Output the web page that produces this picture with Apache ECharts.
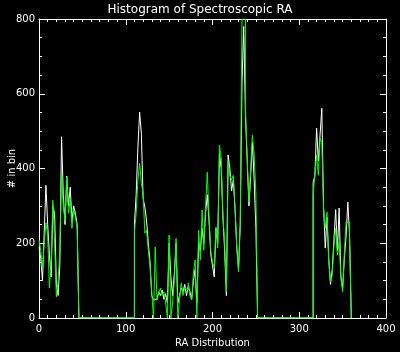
<!DOCTYPE html>
<html>
<head>
<meta charset="utf-8">
<script src="https://cdn.jsdelivr.net/npm/echarts@6/dist/echarts.min.js"></script>
<style>
  html, body { margin: 0; padding: 0; background: #000; }
  #chart { width: 400px; height: 352px; }
</style>
</head>
<body>
<div id="chart"></div>
<script>
// bins: 2 degrees wide, starting at RA 0
var binStart = 0;
var binWidth = 2;

// white histogram counts, one per bin (RA 0..358)
var whiteCounts = [
    // RA 0-44
    190, 160, 100, 230, 355, 250, 170, 110, 300, 280, 90, 60, 140, 485, 330, 250, 380, 300, 350, 260, 300, 280, 250,
    // RA 46-108
    0, 0, 0, 0, 0, 0, 0, 0, 0, 0, 0, 0, 0, 0, 0, 0, 0, 0, 0, 0, 0, 0, 0, 0, 0, 0, 0, 0, 0, 0, 0, 0,
    // RA 110-250
    250, 330, 457, 551, 494, 320, 297, 260, 200, 150, 60, 48, 50, 55, 70, 60, 75, 50, 65, 40,
    200, 110, 60, 120, 200, 40, 60, 80, 70, 90, 60, 85, 70, 50, 100, 130, 40, 200, 180, 240,
    200, 280, 330, 260, 170, 140, 110, 240, 200, 440, 400, 270, 180, 60, 436, 400, 340, 370, 290, 190,
    130, 250, 630, 780, 543, 420, 300, 380, 470, 370, 240,
    // RA 252-314
    0, 0, 0, 0, 0, 0, 0, 0, 0, 0, 0, 0, 0, 0, 0, 0, 0, 0, 0, 0, 0, 0, 0, 0, 0, 0, 0, 0, 0, 0, 0, 0,
    // RA 316-358
    363, 380, 508, 420, 490, 561, 300, 187, 270, 160, 90, 130, 210, 290, 180, 294, 110, 80, 160, 220, 310, 220
];

// green histogram counts, same bins
var greenCounts = [
    210, 180, 130, 200, 255, 220, 80, 150, 315, 200, 56, 100, 180, 387, 300, 260, 377, 280, 320, 240, 290, 270, 240,
    0, 0, 0, 0, 0, 0, 0, 0, 0, 0, 0, 0, 0, 0, 0, 0, 0, 0, 0, 0, 0, 0, 0, 0, 0, 0, 0, 0, 0, 0, 0, 0,
    230, 280, 369, 414, 360, 334, 227, 235, 182, 137, 67, 0, 190, 48, 67, 80, 60, 70, 40, 0,
    222, 0, 40, 100, 213, 0, 50, 94, 60, 80, 75, 94, 60, 48, 120, 155, 0, 235, 155, 289,
    182, 300, 390, 270, 180, 150, 134, 243, 187, 462, 430, 275, 200, 70, 420, 380, 370, 382, 294, 187,
    123, 260, 800, 800, 560, 428, 310, 400, 489, 440, 334,
    0, 0, 0, 0, 0, 0, 0, 0, 0, 0, 0, 0, 0, 0, 0, 0, 0, 0, 0, 0, 0, 0, 0, 0, 0, 0, 0, 0, 0, 0, 0, 0,
    329, 382, 436, 382, 481, 470, 294, 240, 283, 150, 96, 115, 195, 240, 168, 203, 107, 70, 176, 256, 256, 214
];

var xTicks = [0, 100, 200, 300, 400];
var yTicks = [0, 200, 400, 600, 800];

function toSteps(counts) {
    var pts = [];
    for (var i = 0; i < counts.length; i++) {
        pts.push([binStart + i * binWidth, counts[i]]);
    }
    pts.push([binStart + counts.length * binWidth, 0]);
    return pts;
}

var fontName = 'DejaVu Sans';
var axisColor = '#ffffff';

var mkX = function (pos, show) {
    return {
        type: 'value',
        position: pos,
        min: xTicks[0],
        max: xTicks[xTicks.length - 1],
        interval: 100,
        axisLine: {show: true, onZero: false, lineStyle: {color: axisColor, width: 1}},
        axisTick: {show: true, inside: true, length: 6, lineStyle: {color: axisColor}},
        minorTick: {show: true, splitNumber: 10, length: 3, lineStyle: {color: axisColor}},
        axisLabel: {show: show, color: axisColor, fontFamily: fontName, fontSize: 10, margin: 6},
        splitLine: {show: false},
        name: show ? 'RA Distribution' : '',
        nameLocation: 'middle',
        nameGap: 20,
        nameTextStyle: {color: axisColor, fontFamily: fontName, fontSize: 10}
    };
};

var mkY = function (pos, show) {
    return {
        type: 'value',
        position: pos,
        min: yTicks[0],
        max: yTicks[yTicks.length - 1],
        interval: 200,
        axisLine: {show: true, onZero: false, lineStyle: {color: axisColor, width: 1}},
        axisTick: {show: true, inside: true, length: 6, lineStyle: {color: axisColor}},
        minorTick: {show: true, splitNumber: 4, length: 3, lineStyle: {color: axisColor}},
        axisLabel: {show: show, color: axisColor, fontFamily: fontName, fontSize: 10, margin: 4},
        splitLine: {show: false}
    };
};

// bare axis that only carries the y title, so it is not pushed past the tick labels
var yNameAxis = {
    type: 'value',
    position: 'left',
    min: yTicks[0],
    max: yTicks[yTicks.length - 1],
    interval: 200,
    axisLine: {show: false},
    axisTick: {show: false},
    axisLabel: {show: false},
    splitLine: {show: false},
    name: '# in bin',
    nameLocation: 'middle',
    nameGap: 22,
    nameTextStyle: {color: axisColor, fontFamily: fontName, fontSize: 10}
};

var myChart = echarts.init(document.getElementById('chart'));
myChart.setOption({
    backgroundColor: '#000000',
    animation: false,
    title: {
        text: 'Histogram of Spectroscopic RA',
        left: 'center',
        top: -1,
        textStyle: {color: axisColor, fontFamily: fontName, fontSize: 12, fontWeight: 'normal'}
    },
    grid: {left: 39, right: 14, top: 19, bottom: 34, containLabel: false, outerBoundsMode: 'none'},
    xAxis: [mkX('bottom', true), mkX('top', false)],
    yAxis: [mkY('left', true), mkY('right', false), yNameAxis],
    series: [
        {
            name: 'white',
            type: 'line',
            step: 'end',
            showSymbol: false,
            symbol: 'none',
            xAxisIndex: 0,
            yAxisIndex: 0,
            lineStyle: {color: '#ffffff', width: 1},
            data: toSteps(whiteCounts)
        },
        {
            name: 'green',
            type: 'line',
            step: 'end',
            showSymbol: false,
            symbol: 'none',
            xAxisIndex: 0,
            yAxisIndex: 0,
            lineStyle: {color: '#00ff00', width: 1},
            data: toSteps(greenCounts)
        }
    ]
});
</script>
</body>
</html>
